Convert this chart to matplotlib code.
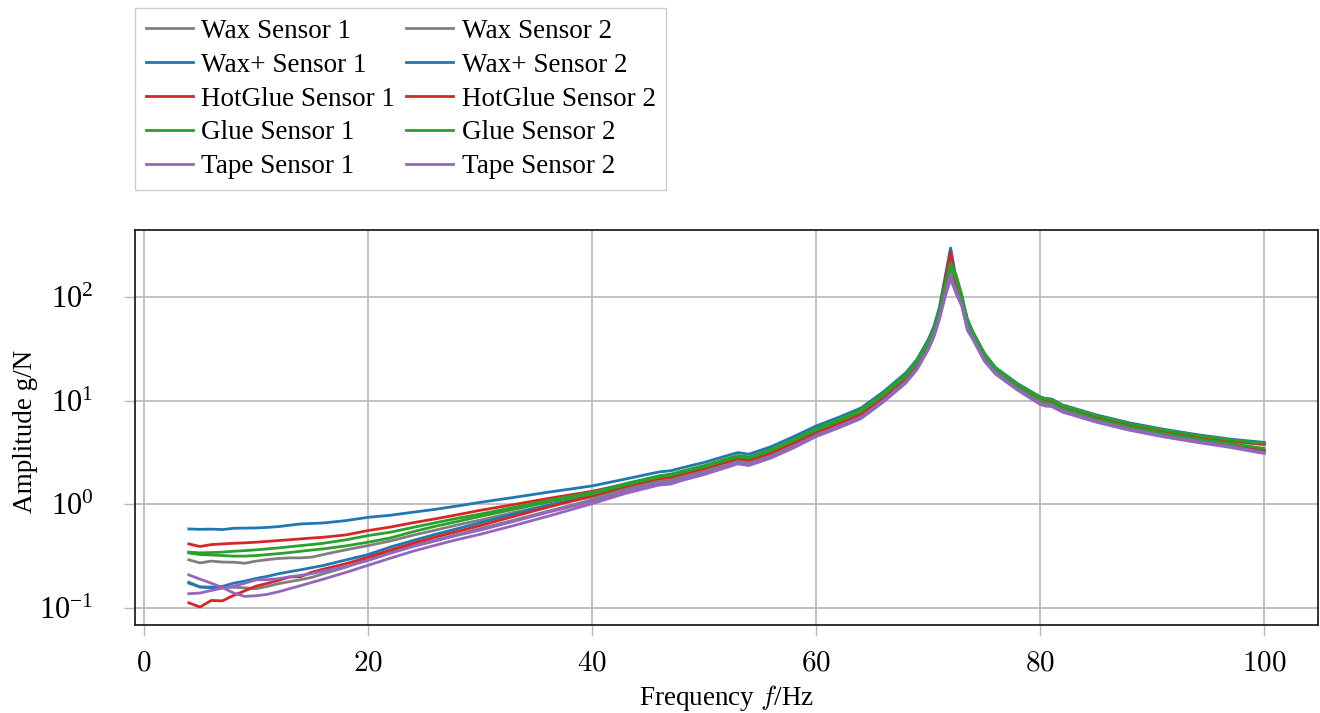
import matplotlib.pyplot as plt
from matplotlib.ticker import FuncFormatter, NullLocator

plt.rcParams['font.family'] = ['Liberation Serif', 'DejaVu Serif']
plt.rcParams['mathtext.fontset'] = 'cm'

# frequency grid (Hz)
freq = [4, 5, 6, 7, 8, 9, 10, 11, 12, 13, 14, 15, 16, 18, 20, 22, 24, 26, 28, 30,
        33, 36, 40, 43, 46, 47, 48, 50, 52, 53, 54, 56, 58, 60, 62, 64, 66, 68, 69, 70,
        70.5, 71, 71.5, 72, 72.5, 73, 73.5, 74,
        75, 76, 78, 80, 80.5, 81, 82,
        85, 88, 91, 94, 97, 100]

wax_s1 = [0.289, 0.27, 0.281, 0.275, 0.274, 0.268, 0.281, 0.29, 0.298, 0.302, 0.302, 0.307, 0.325,
          0.361, 0.397, 0.44, 0.50, 0.56, 0.63, 0.70,
          0.83, 0.97, 1.17, 1.42, 1.70, 1.74, 1.87, 2.12, 2.46, 2.65, 2.56, 3.04, 3.8, 4.85, 5.9, 7.3, 10.6, 16.2, 21.8, 34,
          45, 68, 115, 190, 125, 90, 54, 42,
          26.5, 19.8, 13.8, 10.4, 10.0, 9.95, 8.7,
          6.95, 5.8, 5.05, 4.47, 4.03, 3.75]
wax_s2 = [0.176, 0.158, 0.158, 0.157, 0.157, 0.155, 0.152, 0.16, 0.17, 0.178, 0.186, 0.196, 0.212,
          0.245, 0.296, 0.345, 0.397, 0.45, 0.51, 0.58,
          0.70, 0.85, 1.10, 1.38, 1.66, 1.70, 1.83, 2.08, 2.42, 2.60, 2.50, 2.97, 3.72, 4.75, 5.75, 7.1, 10.3, 15.8, 21.3, 33,
          44, 66, 110, 180, 120, 88, 52, 41,
          25.5, 19, 13.2, 9.8, 9.4, 9.35, 8.2,
          6.55, 5.45, 4.72, 4.17, 3.74, 3.25]
waxp_s1 = [0.575, 0.57, 0.573, 0.567, 0.584, 0.586, 0.588, 0.595, 0.606, 0.625, 0.643, 0.65, 0.657,
           0.692, 0.745, 0.78, 0.835, 0.89, 0.96, 1.04,
           1.16, 1.30, 1.50, 1.75, 2.05, 2.10, 2.24, 2.53, 2.93, 3.15, 3.04, 3.6, 4.5, 5.7, 6.9, 8.5, 12.2, 18.6, 25.1, 39,
           52, 80, 155, 300, 150, 100, 62, 46,
           29, 21, 14.6, 10.9, 10.5, 10.4, 9.1,
           7.3, 6.1, 5.3, 4.7, 4.25, 3.95]
waxp_s2 = [0.172, 0.158, 0.155, 0.16, 0.172, 0.18, 0.191, 0.2, 0.212, 0.222, 0.232, 0.243, 0.255,
           0.288, 0.325, 0.385, 0.444, 0.51, 0.58, 0.66,
           0.80, 0.97, 1.22, 1.50, 1.80, 1.85, 1.98, 2.24, 2.60, 2.80, 2.70, 3.2, 4.0, 5.1, 6.2, 7.6, 11.0, 16.8, 22.7, 35,
           48, 74, 145, 290, 140, 95, 59, 44.5,
           28.3, 20.6, 14.3, 10.7, 10.3, 10.2, 8.9,
           7.15, 5.97, 5.18, 4.6, 4.15, 3.85]
hotglue_s1 = [0.412, 0.389, 0.406, 0.412, 0.418, 0.422, 0.428, 0.436, 0.444, 0.452, 0.461, 0.47, 0.478,
              0.503, 0.555, 0.60, 0.66, 0.72, 0.79, 0.87,
              0.99, 1.13, 1.33, 1.56, 1.83, 1.87, 2.0, 2.26, 2.62, 2.82, 2.72, 3.22, 4.03, 5.1, 6.2, 7.6, 11.0, 16.8, 22.6, 35,
              47, 72, 140, 275, 135, 92, 57, 43,
              27.5, 20.2, 14.0, 10.5, 10.1, 10.05, 8.8,
              7.05, 5.87, 5.1, 4.52, 4.08, 3.8]
hotglue_s2 = [0.111, 0.101, 0.117, 0.116, 0.131, 0.145, 0.161, 0.171, 0.183, 0.197, 0.199, 0.22, 0.235,
              0.265, 0.307, 0.36, 0.418, 0.48, 0.545, 0.62,
              0.76, 0.93, 1.20, 1.48, 1.77, 1.82, 1.95, 2.21, 2.56, 2.76, 2.66, 3.14, 3.92, 4.97, 6.05, 7.45, 10.8, 16.4, 22.1, 34.2,
              46, 70, 130, 250, 128, 91, 55, 42,
              26, 19.3, 13.4, 9.95, 9.55, 9.5, 8.3,
              6.65, 5.5, 4.78, 4.22, 3.78, 3.3]
glue_s1 = [0.343, 0.338, 0.34, 0.343, 0.35, 0.355, 0.361, 0.369, 0.377, 0.387, 0.397, 0.407, 0.418,
           0.451, 0.496, 0.535, 0.595, 0.66, 0.73, 0.80,
           0.93, 1.08, 1.30, 1.58, 1.88, 1.95, 2.08, 2.36, 2.74, 2.95, 2.86, 3.4, 4.25, 5.4, 6.6, 8.2, 11.8, 18.0, 24.3, 37.5,
           49, 74, 130, 215, 165, 106, 60, 46,
           28.7, 20.8, 14.4, 10.8, 10.4, 10.3, 9.0,
           7.2, 6.0, 5.22, 4.63, 4.18, 3.88]
glue_s2 = [0.337, 0.325, 0.322, 0.318, 0.314, 0.314, 0.318, 0.325, 0.332, 0.34, 0.35, 0.36, 0.369,
           0.394, 0.428, 0.471, 0.54, 0.61, 0.68, 0.76,
           0.89, 1.04, 1.26, 1.53, 1.83, 1.90, 2.03, 2.30, 2.67, 2.87, 2.78, 3.3, 4.12, 5.2, 6.35, 7.85, 11.3, 17.2, 23.2, 35.8,
           47, 70, 120, 195, 150, 98, 56, 42.5,
           26.5, 19.3, 13.4, 10.0, 9.6, 9.55, 8.35,
           6.65, 5.55, 4.82, 4.27, 3.85, 3.45]
tape_s1 = [0.136, 0.138, 0.146, 0.154, 0.16, 0.172, 0.185, 0.186, 0.19, 0.198, 0.205, 0.213, 0.225,
           0.248, 0.285, 0.335, 0.388, 0.44, 0.50, 0.56,
           0.68, 0.83, 1.06, 1.33, 1.60, 1.63, 1.76, 2.0, 2.33, 2.52, 2.43, 2.88, 3.6, 4.6, 5.6, 6.9, 10.0, 15.3, 20.6, 32,
           42, 63, 105, 165, 115, 85, 50, 40,
           25, 18.6, 12.9, 9.5, 9.1, 9.05, 7.95,
           6.35, 5.3, 4.58, 4.05, 3.62, 3.15]
tape_s2 = [0.207, 0.188, 0.172, 0.156, 0.138, 0.128, 0.13, 0.134, 0.142, 0.152, 0.163, 0.175, 0.188,
           0.218, 0.256, 0.30, 0.35, 0.40, 0.455, 0.51,
           0.62, 0.76, 1.01, 1.27, 1.53, 1.56, 1.69, 1.93, 2.26, 2.45, 2.36, 2.8, 3.5, 4.5, 5.45, 6.7, 9.7, 14.8, 20, 31,
           41, 61, 100, 150, 108, 82, 48, 39,
           24.3, 18.1, 12.6, 9.2, 8.85, 8.8, 7.75,
           6.2, 5.17, 4.47, 3.95, 3.53, 3.08]

gray = '#7f7f7f'
blue = '#1f77b4'
red = '#d62728'
green = '#2ca02c'
purple = '#9467bd'

series = [
    (wax_s1, "Wax Sensor 1", gray),
    (wax_s2, "Wax Sensor 2", gray),
    (waxp_s1, "Wax+ Sensor 1", blue),
    (waxp_s2, "Wax+ Sensor 2", blue),
    (hotglue_s1, "HotGlue Sensor 1", red),
    (hotglue_s2, "HotGlue Sensor 2", red),
    (glue_s1, "Glue Sensor 1", green),
    (glue_s2, "Glue Sensor 2", green),
    (tape_s1, "Tape Sensor 1", purple),
    (tape_s2, "Tape Sensor 2", purple),
]

fig = plt.figure(figsize=(13.2, 7.13), dpi=100)
ax = fig.add_axes([0.1023, 0.1234, 0.8962, 0.554])

lines = []
for values, label, color in series:
    ln, = ax.plot(freq, values, color=color, linewidth=2.0, label=label)
    lines.append(ln)

ax.set_yscale('log')
ax.yaxis.set_minor_locator(NullLocator())
ax.set_xticks([0, 20, 40, 60, 80, 100])
ax.xaxis.set_major_formatter(FuncFormatter(lambda v, p: f'${v:g}$'))

ax.grid(True, color='#b8b8b8', linewidth=1.2)
ax.set_axisbelow(True)
ax.tick_params(direction='out', length=8, width=1, color='#b8b8b8')
ax.tick_params(axis='x', labelsize=21, pad=10)
ax.tick_params(axis='y', labelsize=22, pad=22)
for sp in ax.spines.values():
    sp.set_linewidth(1.3)
    sp.set_color('#222222')

ax.set_xlabel('Frequency $f$/Hz', fontsize=19.5, labelpad=5)
ax.set_ylabel('Amplitude g/N', fontsize=19.5)
ax.yaxis.set_label_coords(-0.082, 0.49)

# pgfplots-style legend: fill row-wise, so reorder for matplotlib's column-wise layout
order = [0, 2, 4, 6, 8, 1, 3, 5, 7, 9]
fig.legend([lines[i] for i in order], [series[i][1] for i in order],
           loc='upper left', bbox_to_anchor=(0.1023, 0.989), borderaxespad=0, ncol=2,
           fancybox=False, edgecolor='#cccccc', framealpha=1, fontsize=19.5,
           handlelength=1.75, handletextpad=0.3, columnspacing=0.4,
           labelspacing=0.33, borderpad=0.4)

fig.savefig('out.png', dpi=100)
